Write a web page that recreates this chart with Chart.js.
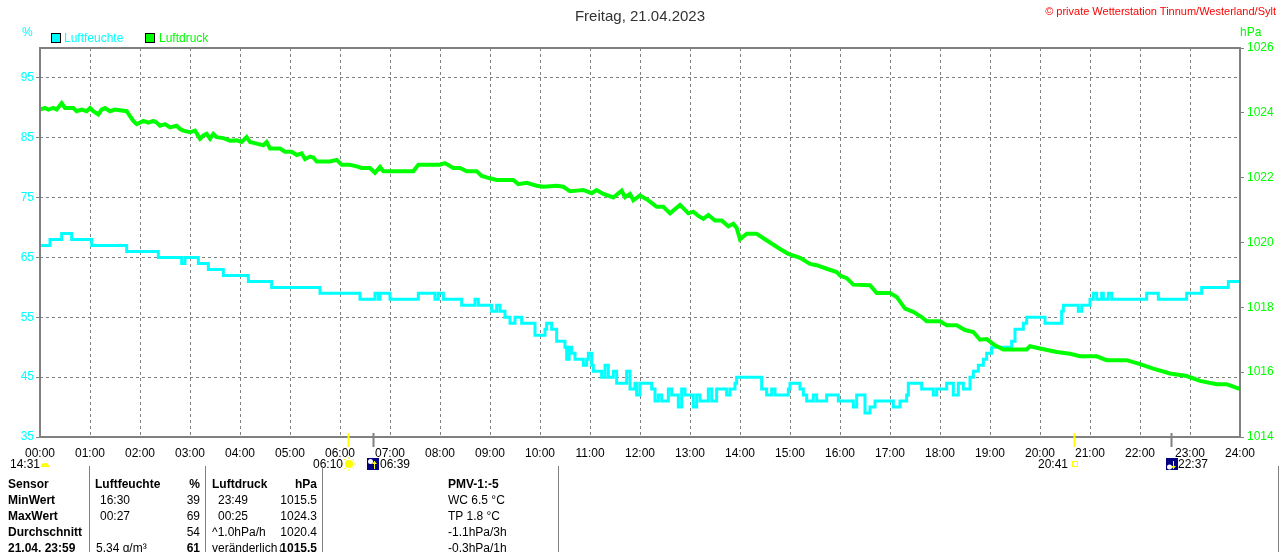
<!DOCTYPE html>
<html>
<head>
<meta charset="utf-8">
<script src="https://cdn.jsdelivr.net/npm/chart.js@4.4.0/dist/chart.umd.min.js"></script>
<style>
  body { margin: 0; background: #fff; font-family: "Liberation Sans", Arial, sans-serif; }
  #wrap { position: relative; width: 1280px; height: 552px; overflow: hidden; }
  #c { position: absolute; left: 0; top: 0; }
  .t { position: absolute; white-space: nowrap; font-size: 12px; line-height: 14px; }
  .b { font-weight: bold; }
  .r { text-align: right; }
  .vl { position: absolute; width: 1px; background: #808080; }
</style>
</head>
<body>
<div id="wrap">
  <canvas id="c" width="1280" height="552"></canvas>
  <div class="t" style="left:0;width:1280px;text-align:center;top:7px;font-size:15px;line-height:17px;color:#333">Freitag, 21.04.2023</div>
  <div class="t" style="right:4px;top:4px;font-size:11px;color:#ff0000">© private Wetterstation Tinnum/Westerland/Sylt</div>
  <div class="t" style="left:22px;top:25px;color:#00ffff">%</div>
  <div class="t" style="left:1240px;top:25px;color:#00ff00">hPa</div>
  <div style="position:absolute;left:51px;top:33px;width:8px;height:8px;background:#00ffff;border:1px solid #000"></div>
  <div class="t" style="left:64px;top:31px;color:#00ffff">Luftfeuchte</div>
  <div style="position:absolute;left:145px;top:33px;width:8px;height:8px;background:#00ff00;border:1px solid #000"></div>
  <div class="t" style="left:159px;top:31px;color:#00ff00">Luftdruck</div>

  <div class="t" style="left:10px;top:457px">14:31</div>
  <div class="t r" style="left:300px;width:43px;top:457px">06:10</div>
  <div class="t" style="left:380px;top:457px">06:39</div>
  <div class="t r" style="left:1025px;width:43px;top:457px">20:41</div>
  <div class="t" style="left:1178px;top:457px">22:37</div>

  <div class="vl" style="left:89px;top:466px;height:86px"></div>
  <div class="vl" style="left:205px;top:466px;height:86px"></div>
  <div class="vl" style="left:322px;top:466px;height:86px"></div>
  <div class="vl" style="left:558px;top:466px;height:86px"></div>
  <div class="vl" style="left:1278px;top:466px;height:86px"></div>
  <div id="tbl"></div>
</div>
<script>
// Luftfeuchte (%), Zeit in Minuten ab 00:00, Stufenwerte
const humTimes = [0, 12, 26, 38, 62, 104, 142, 170, 174, 190, 202, 220, 250, 278, 336, 384, 402, 406, 408, 420,
  454, 474, 478, 484, 506, 522, 526, 542, 548, 552, 558, 564, 570, 578, 588, 594, 606, 608, 614, 620,
  630, 632, 635, 638, 642, 652, 656, 658, 662, 664, 674, 678, 682, 688, 692, 704, 708, 714, 716, 720,
  734, 738, 742, 746, 754, 758, 766, 770, 774, 784, 788, 792, 802, 806, 812, 824, 828, 834, 836, 866,
  872, 878, 882, 898, 900, 912, 916, 920, 928, 932, 944, 958, 976, 980, 990, 996, 1002, 1024, 1032, 1040,
  1042, 1058, 1072, 1076, 1088, 1096, 1102, 1108, 1116, 1120, 1126, 1132, 1136, 1142, 1166, 1170, 1180, 1184, 1206, 1226,
  1228, 1246, 1250, 1260, 1264, 1268, 1274, 1276, 1282, 1286, 1328, 1342, 1376, 1394, 1426, 1440];
const humValues = [67, 68, 69, 68, 67, 66, 65, 64, 65, 64, 63, 62, 61, 60, 59, 58, 59, 58, 59, 58,
  59, 58, 59, 58, 57, 58, 57, 56, 57, 56, 55, 54, 55, 54, 54, 52, 53, 54, 53, 51,
  50, 48, 50, 49, 48, 47, 48, 49, 47, 46, 45, 47, 45, 46, 44, 46, 43, 44, 42, 44,
  43, 41, 42, 41, 43, 42, 40, 43, 42, 40, 42, 41, 43, 41, 43, 42, 43, 44, 45, 43,
  42, 43, 42, 43, 44, 43, 42, 41, 42, 41, 42, 41, 40, 42, 39, 40, 41, 40, 41, 42,
  44, 43, 42, 43, 44, 42, 44, 43, 45, 46, 47, 48, 49, 50, 51, 53, 54, 55, 54, 56,
  57, 56, 57, 58, 59, 58, 59, 58, 59, 58, 59, 58, 59, 60, 61, 61];

// Luftdruck (hPa)
const presTimes = [0, 6, 10, 16, 20, 26, 30, 40, 44, 50, 56, 60, 64, 70, 74, 78, 84, 90, 104, 108,
  112, 116, 124, 130, 136, 140, 144, 150, 156, 164, 168, 172, 180, 186, 192, 196, 200, 204, 208, 212,
  220, 228, 236, 242, 248, 252, 260, 268, 272, 276, 288, 294, 302, 308, 314, 318, 324, 328, 332, 348,
  356, 362, 372, 380, 386, 396, 402, 408, 412, 430, 448, 454, 470, 480, 486, 496, 504, 512, 524, 530,
  540, 548, 568, 574, 584, 596, 604, 620, 628, 636, 644, 652, 662, 668, 676, 688, 698, 702, 708, 712,
  720, 730, 740, 748, 756, 768, 778, 784, 790, 796, 802, 810, 818, 826, 832, 836, 840, 848, 860, 876,
  888, 898, 912, 924, 932, 944, 956, 960, 968, 976, 996, 1004, 1020, 1028, 1038, 1048, 1058, 1064, 1080, 1088,
  1100, 1110, 1120, 1128, 1136, 1146, 1156, 1184, 1188, 1200, 1220, 1236, 1248, 1268, 1280, 1304, 1320, 1336, 1356, 1376,
  1392, 1412, 1424, 1438, 1440];
const presValues = [1024.1, 1024.15, 1024.1, 1024.15, 1024.1, 1024.3, 1024.15, 1024.15, 1024.05, 1024.1, 1024.05, 1024.15, 1024.05, 1023.95, 1024.1, 1024.15, 1024.05, 1024.1, 1024.05, 1023.9,
  1023.75, 1023.65, 1023.75, 1023.7, 1023.75, 1023.7, 1023.6, 1023.65, 1023.55, 1023.6, 1023.5, 1023.45, 1023.4, 1023.45, 1023.2, 1023.3, 1023.35, 1023.2, 1023.35, 1023.25,
  1023.22, 1023.14, 1023.15, 1023.1, 1023.25, 1023.1, 1023.05, 1023.0, 1023.1, 1022.9, 1022.9, 1022.8, 1022.8, 1022.7, 1022.75, 1022.57, 1022.65, 1022.62, 1022.5, 1022.5,
  1022.55, 1022.4, 1022.4, 1022.35, 1022.3, 1022.3, 1022.15, 1022.33, 1022.2, 1022.2, 1022.2, 1022.4, 1022.4, 1022.4, 1022.45, 1022.3, 1022.3, 1022.2, 1022.2, 1022.05,
  1021.98, 1021.93, 1021.93, 1021.8, 1021.84, 1021.75, 1021.72, 1021.75, 1021.72, 1021.58, 1021.6, 1021.62, 1021.52, 1021.62, 1021.5, 1021.39, 1021.6, 1021.4, 1021.5, 1021.3,
  1021.45, 1021.3, 1021.1, 1021.1, 1020.9, 1021.16, 1020.9, 1020.95, 1020.82, 1020.73, 1020.85, 1020.68, 1020.68, 1020.5, 1020.58, 1020.45, 1020.1, 1020.27, 1020.27, 1020.0,
  1019.8, 1019.65, 1019.53, 1019.34, 1019.3, 1019.19, 1019.09, 1018.98, 1018.9, 1018.7, 1018.68, 1018.44, 1018.44, 1018.32, 1017.96, 1017.86, 1017.7, 1017.57, 1017.57, 1017.45,
  1017.45, 1017.3, 1017.24, 1017.0, 1017.02, 1016.83, 1016.7, 1016.7, 1016.8, 1016.73, 1016.62, 1016.57, 1016.49, 1016.49, 1016.37, 1016.37, 1016.25, 1016.11, 1015.96, 1015.88,
  1015.73, 1015.63, 1015.63, 1015.5, 1015.5];

const humTicks = [35, 45, 55, 65, 75, 85, 95];
const presTicks = [1014, 1016, 1018, 1020, 1022, 1024, 1026];

// Sonnenauf-/untergang, Dämmerung (Minuten)
const sunLines = [370, 399, 1241, 1357];
const sunColors = ['#ffff00', '#808080', '#ffff00', '#808080'];

// Tabelle unter dem Diagramm
const tableRows = [
  ['Sensor', 'Luftfeuchte', '%', 'Luftdruck', 'hPa', 'PMV-1:-5'],
  ['MinWert', '16:30', '39', '23:49', '1015.5', 'WC 6.5 °C'],
  ['MaxWert', '00:27', '69', '00:25', '1024.3', 'TP 1.8 °C'],
  ['Durchschnitt', '', '54', '^1.0hPa/h', '1020.4', '-1.1hPa/3h'],
  ['21.04. 23:59', '5.34 g/m³', '61', 'veränderlich', '1015.5', '-0.3hPa/1h']
];

const tbl = document.getElementById('tbl');
tableRows.forEach((row, i) => {
  const top = 477 + i * 16;
  const head = i === 0;
  const last = i === 4;
  const cells = [
    `<div class="t b" style="left:8px;top:${top}px">${row[0]}</div>`,
    `<div class="t${head ? ' b' : ''}" style="left:${head ? 95 : (i < 3 ? 100 : 96)}px;top:${top}px">${row[1]}</div>`,
    `<div class="t r${head || last ? ' b' : ''}" style="left:160px;width:40px;top:${top}px">${row[2]}</div>`,
    `<div class="t${head ? ' b' : ''}" style="left:${head || i > 2 ? 212 : 218}px;top:${top}px">${row[3]}${last ? '<span style="font-weight:bold">↓</span>' : ''}</div>`,
    `<div class="t r${head || last ? ' b' : ''}" style="left:260px;width:57px;top:${top}px">${row[4]}</div>`,
    `<div class="t${head ? ' b' : ''}" style="left:448px;top:${top}px">${row[5]}</div>`
  ];
  tbl.insertAdjacentHTML('beforeend', cells.join(''));
});

const humData = humTimes.map((t, i) => ({ x: t, y: humValues[i] }));
const presData = presTimes.map((t, i) => ({ x: t, y: presValues[i] }));

const framePlugin = {
  id: 'frame',
  afterDraw(chart) {
    const { ctx, chartArea: a, scales } = chart;
    ctx.save();
    ctx.strokeStyle = '#808080';
    ctx.lineWidth = 2;
    ctx.strokeRect(a.left, a.top, a.right - a.left, a.bottom - a.top);
    // Sonnenmarker
    sunLines.forEach((t, i) => {
      const x = Math.round(scales.x.getPixelForValue(t)) + 0.5;
      ctx.strokeStyle = sunColors[i];
      ctx.lineWidth = 2;
      ctx.beginPath();
      ctx.moveTo(x, a.bottom - 4);
      ctx.lineTo(x, a.bottom + 10);
      ctx.stroke();
    });
    // Symbole
    ctx.fillStyle = '#ffff00';
    ctx.beginPath();
    ctx.arc(45, 467, 4, Math.PI, 0);
    ctx.fill();
    // Sonne
    const sx = 349, sy = 464;
    ctx.beginPath();
    ctx.arc(sx, sy, 4, 0, Math.PI * 2);
    ctx.fill();
    ctx.strokeStyle = '#ffff00';
    ctx.lineWidth = 1;
    for (let k = 0; k < 8; k++) {
      const ang = k * Math.PI / 4;
      ctx.beginPath();
      ctx.moveTo(sx + Math.cos(ang) * 5, sy + Math.sin(ang) * 5);
      ctx.lineTo(sx + Math.cos(ang) * 7, sy + Math.sin(ang) * 7);
      ctx.stroke();
    }
    ctx.strokeRect(1072.5, 461.5, 5, 5);
    // Dämmerungssymbole
    [[367, 1], [1166, -1]].forEach(([bx, dir]) => {
      ctx.fillStyle = '#000080';
      ctx.fillRect(bx, 458, 12, 12);
      ctx.fillStyle = '#ffffff';
      ctx.beginPath();
      ctx.arc(bx + 3.5, dir > 0 ? 461.5 : 467, 2.5, 0, Math.PI * 2);
      ctx.fill();
      ctx.strokeStyle = '#ffff00';
      ctx.beginPath();
      ctx.moveTo(bx + 7.5, 469);
      ctx.lineTo(bx + 7.5, 461);
      ctx.stroke();
      ctx.fillStyle = '#ffff00';
      ctx.beginPath();
      const ay = dir > 0 ? 461 : 469;
      ctx.moveTo(bx + 5, ay + 3 * dir);
      ctx.lineTo(bx + 10, ay + 3 * dir);
      ctx.lineTo(bx + 7.5, ay);
      ctx.fill();
    });
    ctx.restore();
  }
};

const hours = [];
for (let h = 0; h <= 24; h++) hours.push(h);

new Chart(document.getElementById('c'), {
  type: 'line',
  data: {
    datasets: [
      {
        label: 'Luftdruck',
        data: presData,
        yAxisID: 'yp',
        borderColor: '#00ff00',
        borderWidth: 4,
        pointRadius: 0,
        tension: 0
      },
      {
        label: 'Luftfeuchte',
        data: humData,
        yAxisID: 'yh',
        borderColor: '#00ffff',
        borderWidth: 3,
        pointRadius: 0,
        stepped: true
      }
    ]
  },
  options: {
    responsive: false,
    animation: false,
    events: [],
    layout: { padding: { top: 48, left: 0, right: 0, bottom: 0 } },
    plugins: { legend: { display: false }, tooltip: { enabled: false } },
    scales: {
      x: {
        type: 'linear',
        min: 0,
        max: 1440,
        afterBuildTicks: (s) => { s.ticks = hours.map(h => ({ value: h * 60 })); },
        afterFit: (s) => { s.height = 115; },
        ticks: {
          color: '#000',
          font: { family: 'Liberation Sans', size: 12 },
          padding: 9,
          maxRotation: 0,
          autoSkip: false,
          callback: (v) => String(v / 60).padStart(2, '0') + ':00'
        },
        grid: { color: '#808080', lineWidth: 1, drawTicks: false },
        border: { display: false, dash: [3, 3] }
      },
      yh: {
        position: 'left',
        min: 35,
        max: 100,
        afterBuildTicks: (s) => { s.ticks = humTicks.map(v => ({ value: v })); },
        afterFit: (s) => { s.width = 40; },
        ticks: {
          color: '#00ffff',
          font: { family: 'Liberation Sans', size: 12 },
          padding: 2,
          callback: (v) => String(v)
        },
        grid: { color: '#808080', lineWidth: 1, drawTicks: true, tickLength: 4, tickColor: '#808080', tickBorderDash: [] },
        border: { display: false, dash: [3, 3] }
      },
      yp: {
        position: 'right',
        min: 1014,
        max: 1026,
        afterBuildTicks: (s) => { s.ticks = presTicks.map(v => ({ value: v })); },
        afterFit: (s) => { s.width = 40; },
        ticks: {
          color: '#00ff00',
          font: { family: 'Liberation Sans', size: 12 },
          padding: 3,
          callback: (v) => String(v)
        },
        grid: { drawOnChartArea: false, drawTicks: true, tickLength: 4, tickColor: '#808080' },
        border: { display: false }
      }
    }
  },
  plugins: [framePlugin]
});
</script>
</body>
</html>
